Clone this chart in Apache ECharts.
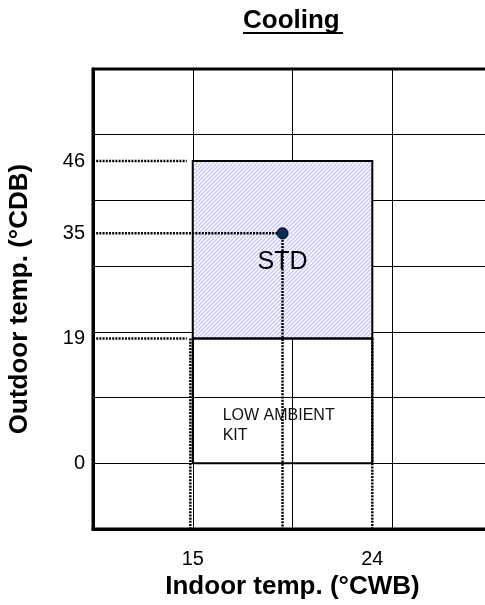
<!DOCTYPE html>
<html>
<head>
<meta charset="utf-8">
<script src="https://cdn.jsdelivr.net/npm/echarts@6/dist/echarts.min.js"></script>
<style>
  html, body { margin: 0; padding: 0; background: #fff; }
  #chart { width: 485px; height: 605px; }
</style>
</head>
<body>
<div id="chart"></div>
<script>
// axis ticks that carry a label
const xLabelValues = [15, 24];
const yLabelValues = [0, 19, 35, 46];

// operating ranges [xFrom, xTo, yFrom, yTo]
const stdRange = [15, 24, 19, 46];
const lowAmbientRange = [15, 24, 0, 19];

// rated point
const ratedPoint = [19.5, 35];

// dotted guide lines, each [[x1, y1], [x2, y2]]
const guideLines = [
  [[10, 46], [14.7, 46]],
  [[10, 19], [14.7, 19]],
  [[10, 35], [19.5, 35]],
  [[19.5, 35], [19.5, -10]],
  [[14.88, 19], [14.88, -10]],
  [[24, 19], [24, -10]]
];

// text labels placed inside the chart
const stdLabel = [19.5, 30.6];
const lowLabel = [16.5, 5.8];

/* hatch pattern for the STD area */
function makeHatch() {
  const c = document.createElement('canvas');
  const s = 4;
  c.width = s; c.height = s;
  const ctx = c.getContext('2d');
  ctx.fillStyle = '#ffffff';
  ctx.fillRect(0, 0, s, s);
  ctx.strokeStyle = '#c3c5f3';
  ctx.lineWidth = 1.3;
  ctx.beginPath();
  ctx.moveTo(-1, s + 1); ctx.lineTo(s + 1, -1);
  ctx.moveTo(-1, 1); ctx.lineTo(1, -1);
  ctx.moveTo(s - 1, s + 1); ctx.lineTo(s + 1, s - 1);
  ctx.stroke();
  return c;
}
const hatch = makeHatch();

function boxRender(fill) {
  return function (params, api) {
    const p1 = api.coord([api.value(0), api.value(3)]);
    const p2 = api.coord([api.value(1), api.value(2)]);
    return {
      type: 'rect',
      shape: { x: p1[0], y: p1[1], width: p2[0] - p1[0], height: p2[1] - p1[1] },
      style: { fill: fill, stroke: '#000', lineWidth: 2 }
    };
  };
}

const chart = echarts.init(document.getElementById('chart'));

chart.setOption({
  animation: false,
  textStyle: { fontFamily: 'Liberation Sans, Arial, sans-serif' },
  grid: {
    left: 93, top: 69, width: 399, height: 460,
    outerBoundsMode: 'none', containLabel: false,
    show: true, borderColor: '#000', borderWidth: 3, backgroundColor: 'transparent'
  },
  graphic: [
    {
      type: 'text', left: 243, top: 8, z: 10,
      style: { text: 'Cooling', font: 'bold 26px Liberation Sans, Arial', fill: '#000' }
    },
    {
      type: 'rect', left: 243, top: 32, z: 10,
      shape: { width: 100, height: 2 }, style: { fill: '#000' }
    }
  ],
  xAxis: {
    type: 'value', min: 10, max: 30, interval: 5,
    name: 'Indoor temp. (°CWB)', nameLocation: 'middle', nameGap: 43,
    nameTextStyle: { fontSize: 26, fontWeight: 'bold', color: '#000' },
    axisLine: { show: true, onZero: false, lineStyle: { color: '#000', width: 3 } },
    axisTick: { show: false },
    axisLabel: { customValues: xLabelValues, margin: 20, fontSize: 20, color: '#000' },
    splitLine: { show: true, lineStyle: { color: '#000', width: 1 } }
  },
  yAxis: {
    type: 'value', min: -10, max: 60, interval: 10,
    name: 'Outdoor temp. (°CDB)', nameLocation: 'middle', nameGap: 60,
    nameTextStyle: { fontSize: 26, fontWeight: 'bold', color: '#000' },
    axisLine: { show: true, onZero: false, lineStyle: { color: '#000', width: 3 } },
    axisTick: { show: false },
    axisLabel: { customValues: yLabelValues, margin: 8, fontSize: 20, color: '#000' },
    splitLine: { show: true, lineStyle: { color: '#000', width: 1 } }
  },
  series: [
    {
      type: 'custom', z: 2,
      renderItem: boxRender({ image: hatch, repeat: 'repeat' }),
      data: [stdRange]
    },
    {
      type: 'custom', z: 2,
      renderItem: boxRender(null),
      data: [lowAmbientRange]
    }
  ].concat(guideLines.map(function (l) {
    return {
      type: 'line', z: 3, symbol: 'none', silent: true,
      lineStyle: { color: '#000', width: 2.5, type: [2, 1.2], opacity: 1 },
      data: l
    };
  })).concat([
    {
      type: 'scatter', z: 5,
      symbolSize: 11,
      itemStyle: { color: '#0c2d5c', borderColor: '#000', borderWidth: 1, opacity: 1 },
      data: [ratedPoint]
    },
    {
      type: 'scatter', z: 6, symbolSize: 0,
      itemStyle: { opacity: 1 },
      label: {
        show: true, position: 'inside', formatter: 'STD',
        fontSize: 25, color: '#000', textBorderWidth: 0
      },
      data: [stdLabel]
    },
    {
      type: 'scatter', z: 6, symbolSize: 0,
      itemStyle: { opacity: 1 },
      label: {
        show: true, position: 'inside', formatter: 'LOW AMBIENT\nKIT',
        align: 'left', verticalAlign: 'middle', lineHeight: 20,
        fontSize: 16, color: '#111', textBorderWidth: 0
      },
      data: [lowLabel]
    }
  ])
});
</script>
</body>
</html>
